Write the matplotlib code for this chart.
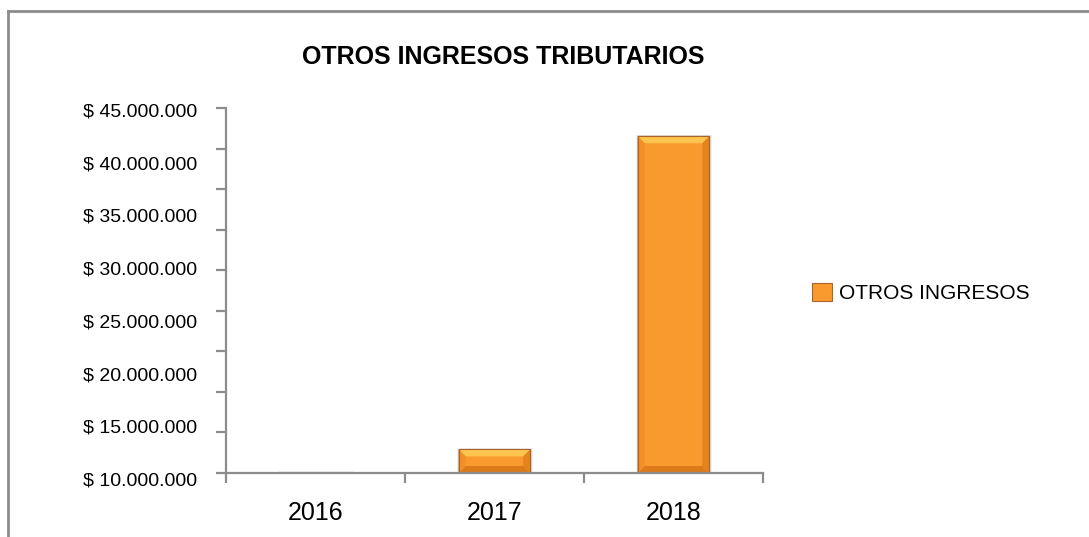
import matplotlib.pyplot as plt
from matplotlib.patches import Polygon, Rectangle
from matplotlib.lines import Line2D

plt.rcParams['font.family'] = ['Liberation Sans', 'DejaVu Sans']

# Data
years = ['2016', '2017', '2018']
otros_ingresos = [10_800_000, 13_000_000, 42_700_000]
label_values = [10_000_000, 15_000_000, 20_000_000, 25_000_000,
                30_000_000, 35_000_000, 40_000_000, 45_000_000]

gray = '#8c8c8c'
fig = plt.figure(figsize=(10.89, 5.37), dpi=100)
ax = fig.add_axes([0.2075, 0.1192, 0.4931, 0.6797])

# y range (labels are not aligned with ticks)
y_lo, y_hi = 10_760_000, 45_380_000
ax.set_ylim(y_lo, y_hi)
ax.set_xlim(-0.5, 2.5)

x = list(range(len(years)))
bars = ax.bar(x, otros_ingresos, width=0.4, color='#F99A2E',
              edgecolor='#A8642A', linewidth=0.8, label='OTROS INGRESOS', zorder=2)

# bevel decoration + soft shadow on each bar
px_x = 3.0 / 537            # data units per pixel (x)
px_y = (y_hi - y_lo) / 365  # data units per pixel (y)
for rect in bars:
    x0 = rect.get_x()
    x1 = x0 + rect.get_width()
    top = rect.get_height()
    bot = y_lo
    for k, a in [(4, 0.06), (2.5, 0.08), (1.2, 0.1)]:
        ax.add_patch(Rectangle((x0 - k * px_x * 0.3, bot), (x1 - x0) + k * px_x,
                               top - bot + k * px_y * 0.3, facecolor='black',
                               alpha=a, edgecolor='none', zorder=1))
    b = min(7, (top - bot) / px_y / 2)
    bx, by = b * px_x, b * px_y
    ax.add_patch(Polygon([(x0, top), (x1, top), (x1 - bx, top - by), (x0 + bx, top - by)],
                         closed=True, facecolor='#FDC44E', edgecolor='none', zorder=3))
    ax.add_patch(Polygon([(x0, bot), (x1, bot), (x1 - bx, bot + by), (x0 + bx, bot + by)],
                         closed=True, facecolor='#DC7B1C', edgecolor='none', zorder=3))
    ax.add_patch(Polygon([(x0, top), (x0 + bx, top - by), (x0 + bx, bot + by), (x0, bot)],
                         closed=True, facecolor='#F28F26', edgecolor='none', zorder=3))
    ax.add_patch(Polygon([(x1, top), (x1 - bx, top - by), (x1 - bx, bot + by), (x1, bot)],
                         closed=True, facecolor='#E5841F', edgecolor='none', zorder=3))
    ax.add_patch(Rectangle((x0, bot), x1 - x0, top - bot, facecolor='none',
                           edgecolor='#A8642A', linewidth=0.8, zorder=4))

# axes styling
for s in ['top', 'right']:
    ax.spines[s].set_visible(False)
for s in ['left', 'bottom']:
    ax.spines[s].set_color(gray)
    ax.spines[s].set_linewidth(1.6)
    ax.spines[s].set_zorder(5)

step = (y_hi - y_lo) / 9
ax.set_yticks([y_lo + i * step for i in range(10)])
ax.set_yticklabels([])
ax.tick_params(axis='y', length=7, width=1.6, color=gray, direction='out')

for v in label_values:
    ax.text(-0.054, v, '$ ' + f'{v:,}'.replace(',', '.'), transform=ax.get_yaxis_transform(),
            ha='right', va='center', fontsize=14, clip_on=False)

ax.set_xticks(x)
ax.set_xticklabels(years, fontsize=18)
ax.set_xticks([-0.5, 0.5, 1.5, 2.5], minor=True)
ax.tick_params(axis='x', which='major', length=0, pad=20)
ax.tick_params(axis='x', which='minor', length=7, width=1.6, color=gray, direction='out')

fig.text(0.462, 0.894, 'OTROS INGRESOS TRIBUTARIOS', ha='center', va='center',
         fontsize=18, fontweight='bold')

fig.legend(handles=[bars], labels=['OTROS INGRESOS'], loc='center left',
           bbox_to_anchor=(0.736, 0.454), frameon=False, fontsize=15,
           handlelength=0.95, handleheight=0.95, handletextpad=0.35, borderpad=0)

# outer chart border (left and top visible)
fig.add_artist(Line2D([8 / 1089, 8 / 1089], [0, 1 - 11 / 537], color=gray, linewidth=2))
fig.add_artist(Line2D([8 / 1089, 1], [1 - 11 / 537, 1 - 11 / 537], color=gray, linewidth=2))

plt.savefig('out.png', dpi=100)
